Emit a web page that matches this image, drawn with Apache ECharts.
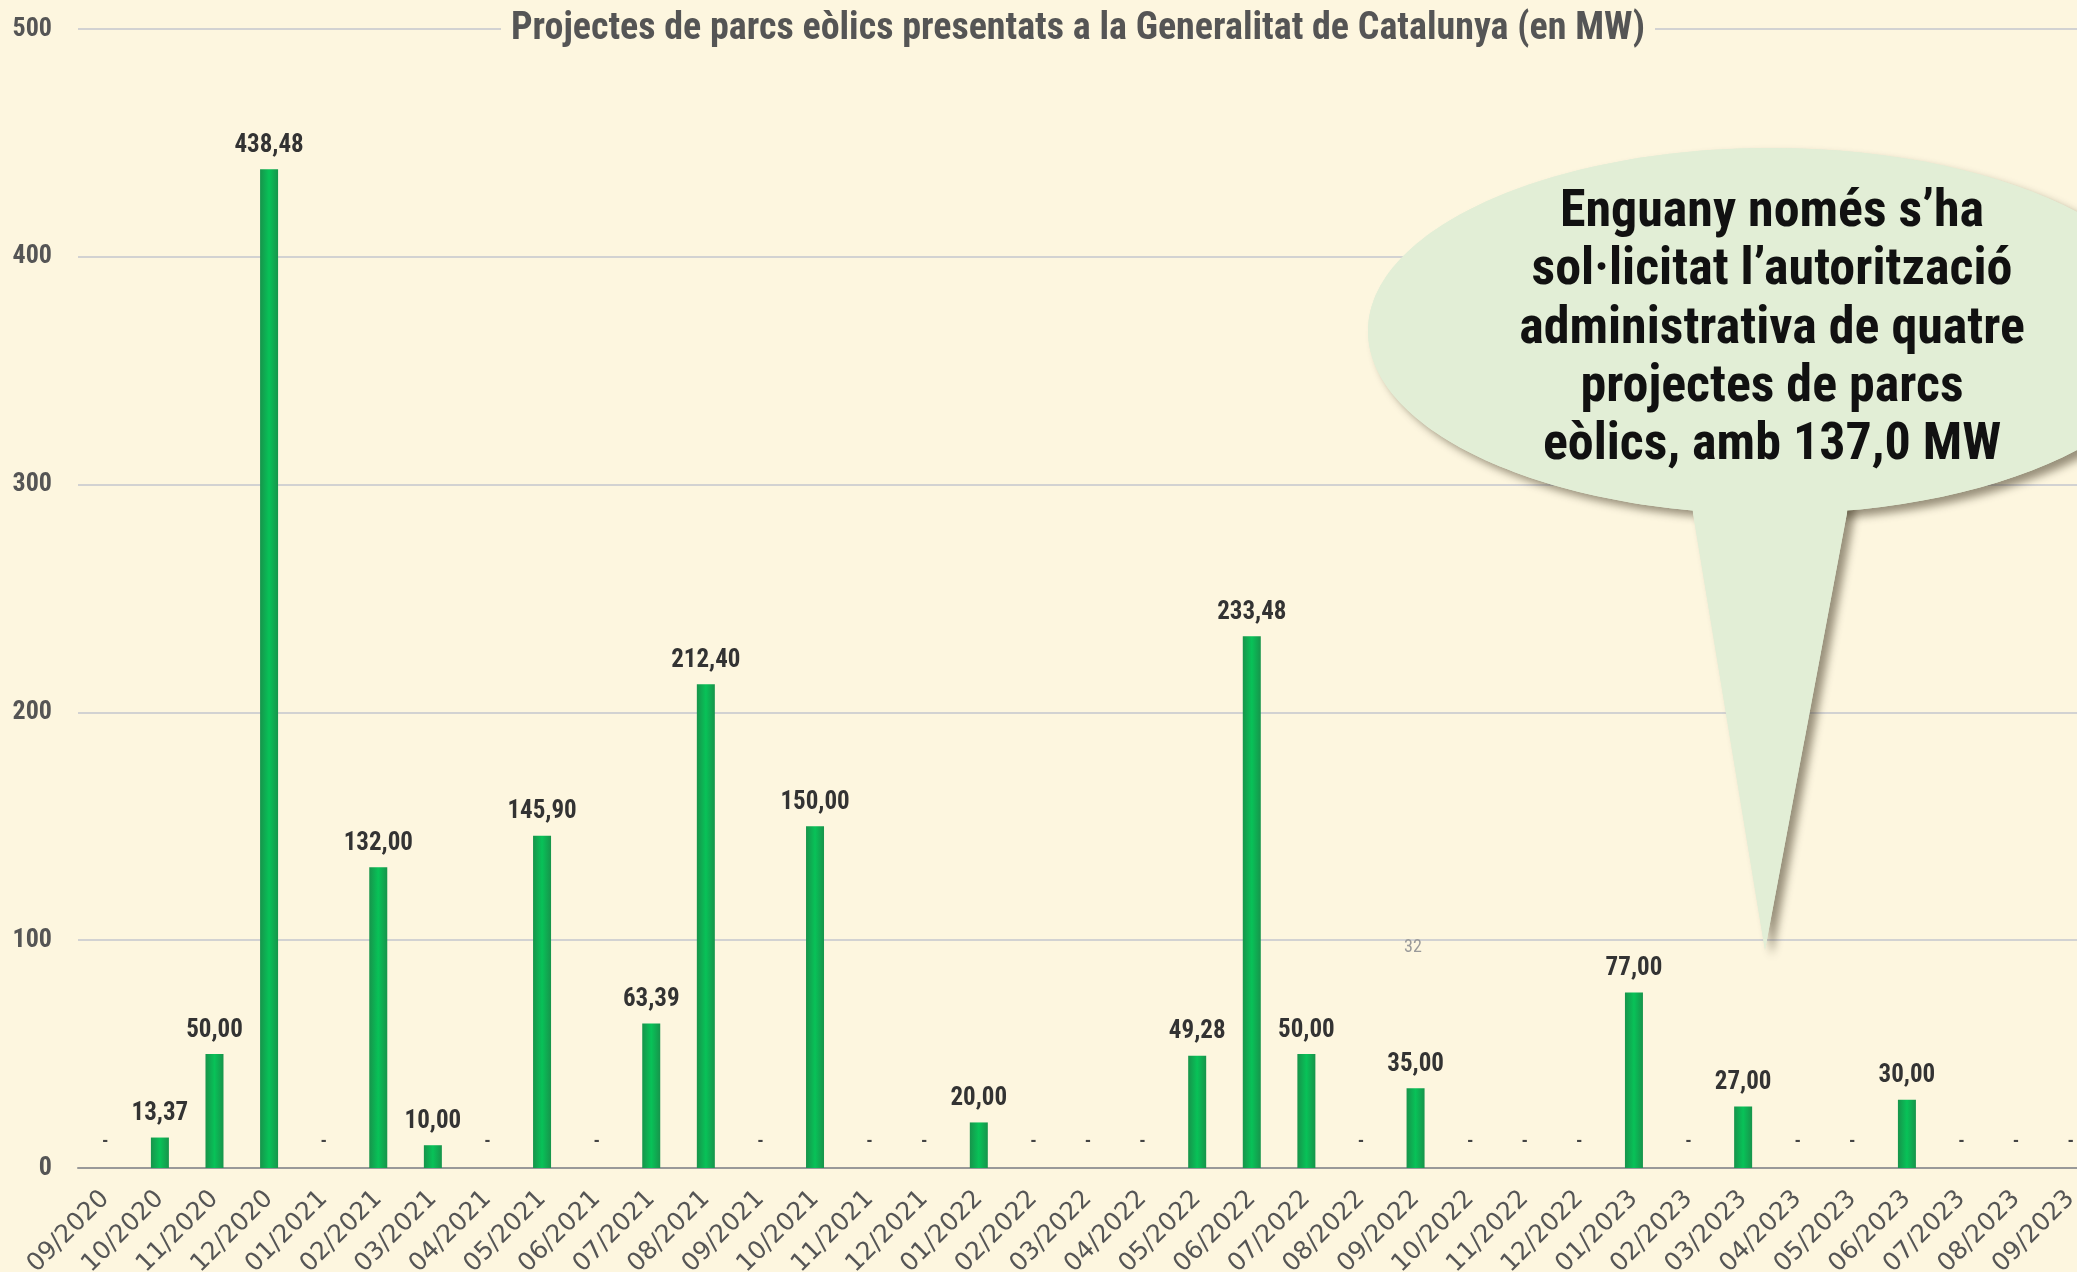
<!DOCTYPE html>
<html lang="ca">
<head>
    <meta charset="UTF-8">
    <title>Projectes de parcs eòlics</title>
    <style>
        * { margin: 0; padding: 0; }
        body { background: #fdf6df; }
        #main { width: 2077px; height: 1272px; }
    </style>
    <script src="https://cdn.jsdelivr.net/npm/echarts@6/dist/echarts.min.js"></script>
</head>
<body>
    <div id="main"></div>
    <script>
        // mesos (09/2020 - 09/2023)
        var months = ['09/2020', '10/2020', '11/2020', '12/2020',
            '01/2021', '02/2021', '03/2021', '04/2021', '05/2021', '06/2021',
            '07/2021', '08/2021', '09/2021', '10/2021', '11/2021', '12/2021',
            '01/2022', '02/2022', '03/2022', '04/2022', '05/2022', '06/2022',
            '07/2022', '08/2022', '09/2022', '10/2022', '11/2022', '12/2022',
            '01/2023', '02/2023', '03/2023', '04/2023', '05/2023', '06/2023',
            '07/2023', '08/2023', '09/2023'];
        // MW presentats cada mes
        var mw = [0, 13.37, 50, 438.48,
            0, 132, 10, 0, 145.9, 0,
            63.39, 212.4, 0, 150, 0, 0,
            20, 0, 0, 0, 49.28, 233.48,
            50, 0, 35, 0, 0, 0,
            77, 0, 27, 0, 0, 30,
            0, 0, 0];
        var yTicks = [0, 100, 200, 300, 400, 500];

        var titleText = 'Projectes de parcs eòlics presentats a la Generalitat de Catalunya (en MW)';
        var noteLines = ['Enguany només s\u2019ha', 'sol\u00b7licitat l\u2019autorització',
            'administrativa de quatre', 'projectes de parcs', 'eòlics, amb 137,0 MW'];

        var narrow = "'Liberation Sans Narrow', 'Roboto Condensed', 'DejaVu Sans Condensed', 'Liberation Sans', sans-serif";
        var bg = '#fdf6df';

        var chart = echarts.init(document.getElementById('main'));

        var barColor = new echarts.graphic.LinearGradient(0, 0, 1, 0, [
            { offset: 0, color: '#17944b' },
            { offset: 0.5, color: '#08c258' },
            { offset: 1, color: '#17944b' }
        ]);

        // bafarada: ombra + forma
        var bubble = function (shadow) {
            var s = { fill: '#e2eed6' };
            if (shadow) {
                s.shadowBlur = 8;
                s.shadowColor = 'rgba(70,60,40,0.55)';
                s.shadowOffsetX = 7;
                s.shadowOffsetY = 6;
            }
            return [
                { type: 'ellipse', shape: { cx: 1771, cy: 331, rx: 403, ry: 183 }, style: s, z: 100 },
                { type: 'polygon', shape: { points: [[1690, 470], [1850, 470], [1847, 513], [1765, 950], [1693, 513]] }, style: s, z: 100 }
            ];
        };

        var graphics = [].concat(bubble(true), bubble(false));
        noteLines.forEach(function (t, i) {
            graphics.push({
                type: 'text', z: 101,
                style: {
                    text: t, x: 1772, y: 213 + i * 58.3,
                    align: 'center', verticalAlign: 'middle',
                    font: 'bold 52px ' + narrow, fill: '#111'
                }
            });
        });
        graphics.push({
            type: 'text', z: 101,
            style: {
                text: titleText, x: 1078, y: 29,
                align: 'center', verticalAlign: 'middle',
                font: 'bold 38px ' + narrow, fill: '#555',
                backgroundColor: bg, padding: [2, 10]
            }
        });
        graphics.push({
            type: 'text', z: 101,
            style: {
                text: '32', x: 1413, y: 947, align: 'center', verticalAlign: 'middle',
                font: '18px ' + narrow, fill: '#9a9a9a'
            }
        });

        var option = {
            backgroundColor: bg,
            animation: false,
            grid: { left: 78, top: 29, width: 2020, height: 1139, outerBoundsMode: 'none', containLabel: false },
            xAxis: {
                type: 'category',
                data: months,
                axisLine: { lineStyle: { color: '#999', width: 2 } },
                axisTick: { show: false },
                axisLabel: {
                    rotate: 45, margin: 27, interval: 0,
                    color: '#555', fontSize: 25,
                    fontFamily: "'DejaVu Sans', Verdana, sans-serif"
                }
            },
            yAxis: {
                type: 'value',
                min: 0, max: 500, interval: 100,
                axisLine: { show: false },
                axisTick: { show: false },
                splitLine: { lineStyle: { color: '#d2d2d2', width: 2 } },
                axisLabel: {
                    margin: 26, color: '#555', fontSize: 26, fontWeight: 'bold',
                    fontFamily: narrow,
                    formatter: function (v) { return yTicks.indexOf(v) >= 0 ? String(v) : ''; }
                }
            },
            series: [{
                type: 'bar',
                data: mw,
                barWidth: 18,
                itemStyle: { color: barColor },
                label: {
                    show: true,
                    position: 'top',
                    distance: 11,
                    color: '#333',
                    fontSize: 25,
                    fontWeight: 'bold',
                    fontFamily: narrow,
                    formatter: function (p) {
                        return p.value === 0 ? '{d|-}' : p.value.toFixed(2).replace('.', ',');
                    },
                    rich: {
                        d: { fontSize: 18, color: '#444', fontWeight: 'bold', fontFamily: narrow, padding: [0, 0, 6, 0] }
                    }
                }
            }],
            graphic: graphics
        };
        chart.setOption(option);
    </script>
</body>
</html>
